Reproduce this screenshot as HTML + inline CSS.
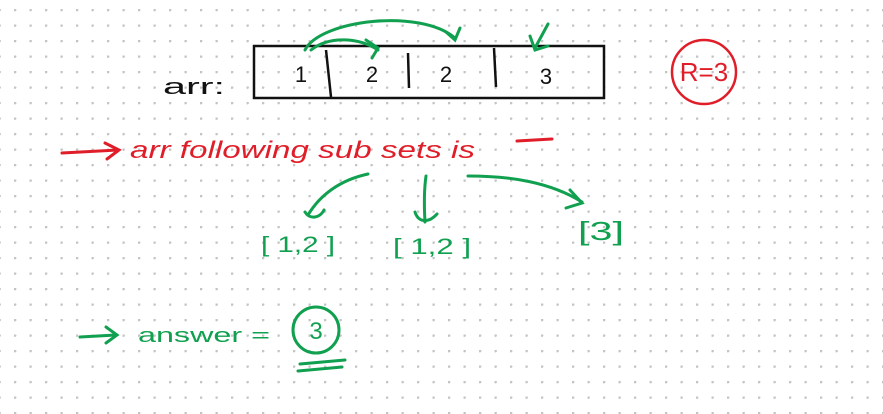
<!DOCTYPE html>
<html><head><meta charset="utf-8"><style>
html,body{margin:0;padding:0;background:#fff;}
svg{display:block;}
text{font-family:"Liberation Sans",sans-serif;}
</style></head><body>
<svg width="883" height="414" viewBox="0 0 883 414" xmlns="http://www.w3.org/2000/svg">
<defs>
<pattern id="d" x="14" y="9" width="15.5" height="15.5" patternUnits="userSpaceOnUse">
<circle cx="1" cy="1" r="1.4" fill="#c4c4c4"/>
</pattern>
</defs>
<rect width="883" height="414" fill="#fff"/>
<rect width="883" height="414" fill="url(#d)"/>

<!-- array -->
<text x="163" y="94" font-size="22" fill="#111" textLength="62" lengthAdjust="spacingAndGlyphs">arr:</text>
<rect x="254" y="46" width="350" height="52" fill="none" stroke="#111" stroke-width="2.5"/>
<path d="M326 50 L331 97 M408 53 L409 88 M494 48 L496 87" stroke="#111" stroke-width="2.5" fill="none"/>
<g font-size="22" fill="#111" text-anchor="middle">
<text x="301" y="82">1</text><text x="372" y="82">2</text><text x="446" y="82">2</text><text x="546" y="84">3</text>
</g>

<!-- green top arrows -->
<g stroke="#10a050" stroke-width="3" fill="none" stroke-linecap="round">
<path d="M305 50 C320 20 420 8 455 38"/>
<path d="M446 32 L455 40 L460 28"/>
<path d="M311 50 C330 35 360 38 378 50"/>
<path d="M366 40 L378 48 L372 58"/>
<path d="M548 24 L535 48"/>
<path d="M530 36 L535 50 L548 46"/>
</g>

<!-- R=3 -->
<circle cx="704" cy="72" r="32" fill="none" stroke="#e01e2a" stroke-width="2.5"/>
<text x="704" y="81" font-size="26" fill="#e01e2a" text-anchor="middle">R=3</text>

<!-- red line -->
<g stroke="#e01e2a" stroke-width="3" fill="none" stroke-linecap="round">
<path d="M62 153 L118 150"/>
<path d="M105 143 L119 150 L107 159"/>
<path d="M517 141 L552 139"/>
</g>
<text x="130" y="158" font-size="24" fill="#e01e2a" font-style="italic" textLength="345" lengthAdjust="spacingAndGlyphs">arr following sub sets is</text>

<!-- green subset arrows -->
<g stroke="#10a050" stroke-width="3" fill="none" stroke-linecap="round">
<path d="M368 174 C340 180 320 195 308 215"/>
<path d="M305 212 C310 220 320 218 324 210"/>
<path d="M426 176 C424 190 424 205 425 222"/>
<path d="M415 212 C418 222 428 224 437 214"/>
<path d="M468 176 C510 176 550 182 582 202"/>
<path d="M570 190 L582 203 L566 208"/>
</g>
<g font-size="22" fill="#10a050">
<text x="261" y="252" textLength="74" lengthAdjust="spacingAndGlyphs">[ 1,2 ]</text>
<text x="393" y="254" textLength="78" lengthAdjust="spacingAndGlyphs">[ 1,2 ]</text>
<text x="578" y="240" font-size="26" textLength="46" lengthAdjust="spacingAndGlyphs">[3]</text>
</g>

<!-- answer -->
<g stroke="#10a050" stroke-width="3" fill="none" stroke-linecap="round">
<path d="M80 337 L116 335"/>
<path d="M106 327 L117 335 L106 343"/>
<circle cx="316" cy="330" r="23"/>
<path d="M300 364 L345 360 M298 371 L342 367"/>
</g>
<text x="138" y="342" font-size="20" fill="#10a050" textLength="132" lengthAdjust="spacingAndGlyphs">answer =</text>
<text x="316" y="339" font-size="24" fill="#10a050" text-anchor="middle">3</text>
</svg>
</body></html>
